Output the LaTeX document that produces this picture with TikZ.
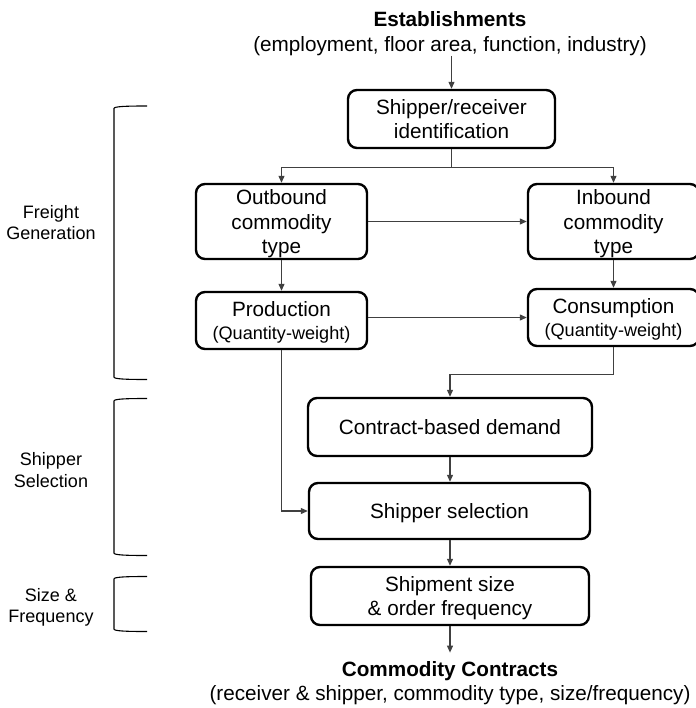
\documentclass[tikz,border=0pt]{standalone}
\usepackage{fontspec}
\setmainfont{Liberation Sans}
\usetikzlibrary{arrows.meta}
\begin{document}
\begin{tikzpicture}[x=1pt,y=-1pt,
  box/.style={draw=black, line width=2.4pt, rounded corners=9pt, align=center, inner sep=0pt,
    text depth=0pt, font=\fontsize{20.7}{24.8}\selectfont},
  topstrut/.style={execute at begin node={\rule{0pt}{#1}}},
  conn/.style={draw=black!75, line width=1.1pt, -{Triangle[length=7pt,width=6pt]}},
  plain/.style={draw=black!75, line width=1.1pt},
  bracket/.style={draw=black, line width=1.1pt},
  lbl/.style={align=center, inner sep=0pt, font=\fontsize{18}{21.3}\selectfont},
  endtxt/.style={align=center, inner sep=0pt}
]
\useasboundingbox (0,0) rectangle (695,708);

% end texts
\node[endtxt, font=\fontsize{20.7}{24.8}\selectfont] (est) at (450,33.6)
  {\textbf{Establishments}\\(employment, floor area, function, industry)};
\node[endtxt, outer ysep=9pt, font=\fontsize{20.7}{23.5}\selectfont] (cc) at (450,683)
  {\textbf{Commodity Contracts}\\(receiver \& shipper, commodity type, size/frequency)};

% boxes
\node[box, topstrut=19pt, minimum width=207pt, minimum height=58pt] (sr) at (451.5,119) {Shipper/receiver\\identification};
\node[box, topstrut=18pt, minimum width=171pt, minimum height=75pt] (out) at (281.5,221.5) {Outbound\\commodity\\type};
\node[box, topstrut=18pt, minimum width=171pt, minimum height=75pt] (in) at (613.5,221.5) {Inbound\\commodity\\type};
\node[box, topstrut=17.2pt, minimum width=171pt, minimum height=57pt] (prod) at (281.5,320.5)
  {Production\\[-2.5pt]{\fontsize{18.1}{21}\selectfont (Quantity-weight)}};
\node[box, topstrut=19.2pt, minimum width=171pt, minimum height=57pt] (cons) at (613.5,317.5)
  {Consumption\\[-2.5pt]{\fontsize{18.1}{21}\selectfont (Quantity-weight)}};
\node[box, minimum width=284pt, minimum height=58pt] (cbd) at (450,427) {Contract-based demand};
\node[box, minimum width=281pt, minimum height=56pt] (ssel) at (449.5,511) {Shipper selection};
\node[box, minimum width=278pt, minimum height=58pt] (ssz) at (450,596) {Shipment size\\\& order frequency};

% connectors
\draw[conn] (est.south -| sr.north) -- (sr.north);
\draw[plain] (sr.south) -- ++(0,18) coordinate (br);
\draw[conn] (br) -| (out.north);
\draw[conn] (br) -| (in.north);
\draw[conn] (out.east) -- (in.west);
\draw[conn] (out.south) -- (prod.north);
\draw[conn] (in.south) -- (cons.north);
\draw[conn] (prod.east |- cons.west) -- (cons.west);
\draw[conn] (prod.south) |- (ssel.west);
\draw[conn] (cons.south) -- ++(0,27) -| (cbd.north);
\draw[conn] (cbd.south) -- (cbd.south |- ssel.north);
\draw[conn] (ssel.south -| ssz.north) -- (ssz.north);
\draw[conn] (ssz.south) -- (cc.north);

% stage labels
\node[lbl] (fg) at (51,222.5) {Freight\\Generation};
\node[lbl] (sh) at (51,470) {Shipper\\Selection};
\node[lbl] (sf) at (51,607.5) {Size \&\\Frequency};

% brackets
\draw[bracket] (147,106) .. controls (125,106) and (114,106.5) .. (114,108.5)
  -- (114,377) .. controls (114,379) and (125,379.5) .. (147,379.5);
\draw[bracket] (147,398.5) .. controls (125,398.5) and (114,399) .. (114,401)
  -- (114,553) .. controls (114,555) and (125,555.5) .. (147,555.5);
\draw[bracket] (147,576.5) .. controls (125,576.5) and (114,577) .. (114,579)
  -- (114,629) .. controls (114,631) and (125,631.5) .. (147,631.5);
\end{tikzpicture}
\end{document}
